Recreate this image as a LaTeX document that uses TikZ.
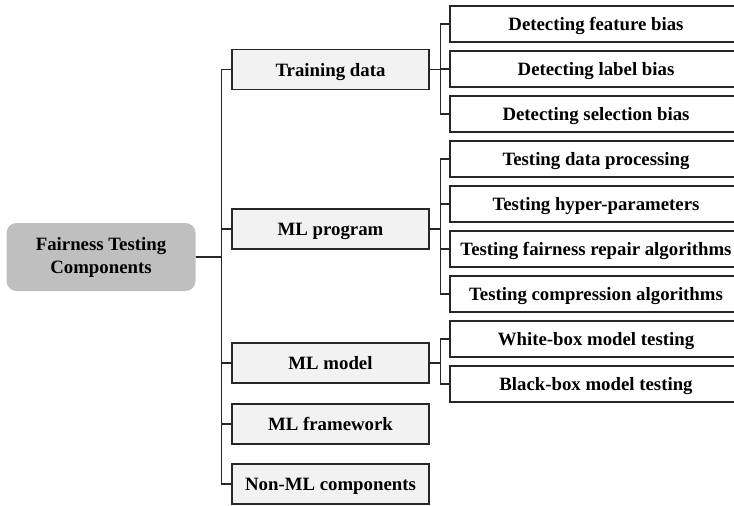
\documentclass[tikz,border=0pt]{standalone}
\usepackage{fontspec}
\setmainfont{Liberation Serif}
\usepackage{tikz}
\usetikzlibrary{arrows.meta}

\begin{document}
\begin{tikzpicture}[
          x=1pt, y=-1pt,
          % Stile del nodo principale
          radice/.style={
              rectangle,
              rounded corners=10pt,
              fill=black!25,
              minimum width=189pt,
              minimum height=68pt,
              align=center,
              font=\bfseries\fontsize{18.8}{23}\selectfont
          },
          % Stile delle categorie (primo livello)
          categoria/.style={
              draw=black!85,
              rectangle,
              fill=black!5,
              minimum width=197pt,
              minimum height=40pt,
              text height=13pt,
              text depth=0pt,
              line width=1.4pt,
              font=\bfseries\fontsize{18.8}{23}\selectfont
          },
          % Stile delle voci (secondo livello)
          voce/.style={
              draw=black!85,
              rectangle,
              fill=white,
              minimum width=292pt,
              minimum height=36pt,
              text height=13pt,
              text depth=0pt,
              line width=1.4pt,
              font=\bfseries\fontsize{18.8}{23}\selectfont
          },
          % Stile dei collegamenti
          linea/.style={
              line width=1.4pt,
              draw=black!85
          }
      ]

          \clip (0,0) rectangle (734,506);

          % 1. Nodo principale
          \node [radice] (radice) at (101,257) {Fairness Testing\\Components};

          % 2. Categorie
          \node [categoria] (dati) at (330.5,69.5) {Training data};
          \node [categoria] (programma) at (330.5,229) {ML program};
          \node [categoria] (modello) at (330.5,363) {ML model};
          \node [categoria] (framework) at (330.5,424) {ML framework};
          \node [categoria] (nonml) at (330.5,484) {Non-ML components};

          % 3. Voci dei dati di addestramento
          \node [voce] (v1) at (596,24) {Detecting feature bias};
          \node [voce] (v2) at (596,69) {Detecting label bias};
          \node [voce] (v3) at (596,114) {Detecting selection bias};

          % 4. Voci del programma
          \node [voce] (v4) at (596,159) {Testing data processing};
          \node [voce] (v5) at (596,204) {Testing hyper-parameters};
          \node [voce] (v6) at (596,249) {Testing fairness repair algorithms};
          \node [voce] (v7) at (596,294) {Testing compression algorithms};

          % 5. Voci del modello
          \node [voce] (v8) at (596,339) {White-box model testing};
          \node [voce] (v9) at (596,384) {Black-box model testing};

          % 6. Collegamenti dal nodo principale alle categorie
          \draw [linea] (radice.east) -- ++(25.5,0) |- (dati.west);
          \draw [linea] (radice.east) -- ++(25.5,0) |- (programma.west);
          \draw [linea] (radice.east) -- ++(25.5,0) |- (modello.west);
          \draw [linea] (radice.east) -- ++(25.5,0) |- (framework.west);
          \draw [linea] (radice.east) -- ++(25.5,0) |- (nonml.west);

          % 7. Collegamenti dalle categorie alle voci
          \draw [linea] (dati.east) -- ++(10.5,0) |- (v1.west);
          \draw [linea] (dati.east) -- ++(10.5,0) |- (v2.west);
          \draw [linea] (dati.east) -- ++(10.5,0) |- (v3.west);
          \draw [linea] (programma.east) -- ++(10.5,0) |- (v4.west);
          \draw [linea] (programma.east) -- ++(10.5,0) |- (v5.west);
          \draw [linea] (programma.east) -- ++(10.5,0) |- (v6.west);
          \draw [linea] (programma.east) -- ++(10.5,0) |- (v7.west);
          \draw [linea] (modello.east) -- ++(10.5,0) |- (v8.west);
          \draw [linea] (modello.east) -- ++(10.5,0) |- (v9.west);

      \end{tikzpicture}
\end{document}
